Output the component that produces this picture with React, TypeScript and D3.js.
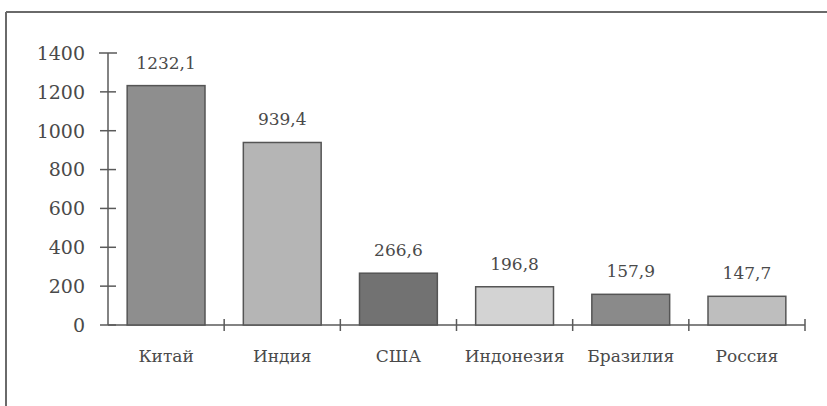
import React from "react";
import * as d3 from "d3";

const categories = ["Китай", "Индия", "США", "Индонезия", "Бразилия", "Россия"];
const values = [1232.1, 939.4, 266.6, 196.8, 157.9, 147.7];
const valueLabels = ["1232,1", "939,4", "266,6", "196,8", "157,9", "147,7"];
const yTicks = [0, 200, 400, 600, 800, 1000, 1200, 1400];
const barColors = ["#8e8e8e", "#b5b5b5", "#727272", "#d3d3d3", "#8a8a8a", "#bebebe"];

const W = 827;
const H = 406;
const X0 = 108;
const X1 = 805;
const Y0 = 325;
const Y1 = 53;
const FONT = "'DejaVu Serif', serif";
const TEXT = "#4a4a4a";
const AXIS = "#5a5a5a";

export default function App() {
  const x = d3
    .scaleBand<string>()
    .domain(categories)
    .range([X0, X1])
    .paddingInner(0.33)
    .paddingOuter(0.165);
  const y = d3.scaleLinear().domain([0, 1400]).range([Y0, Y1]);
  const step = x.step();
  const boundaries = d3.range(1, categories.length + 1).map((i) => X0 + i * step);

  return (
    <svg
      width={W}
      height={H}
      style={{ position: "absolute", left: 0, top: 0, background: "#fff" }}
    >
      {/* frame */}
      <line x1={6} y1={12} x2={W} y2={12} stroke="#6a6a6a" strokeWidth={2} />
      <line x1={6} y1={12} x2={6} y2={H} stroke="#6a6a6a" strokeWidth={2} />

      {/* y axis */}
      <line x1={X0} y1={y(1400)} x2={X0} y2={Y0} stroke={AXIS} strokeWidth={1.5} />
      {yTicks.map((t) => (
        <g key={t}>
          <line
            x1={t === 1400 ? X0 - 9 : X0 - 8}
            x2={t === 1400 ? X0 + 9 : X0 + 8}
            y1={y(t)}
            y2={y(t)}
            stroke={AXIS}
            strokeWidth={1.5}
          />
          <text
            x={85}
            y={y(t)}
            dy="0.36em"
            textAnchor="end"
            fontFamily={FONT}
            fontSize={19}
            fill={TEXT}
          >
            {t}
          </text>
        </g>
      ))}

      {/* x axis */}
      <line x1={X0} y1={Y0} x2={X1} y2={Y0} stroke={AXIS} strokeWidth={1.5} />
      {boundaries.map((bx, i) => (
        <line key={i} x1={bx} x2={bx} y1={Y0 - 6} y2={Y0 + 6} stroke={AXIS} strokeWidth={1.5} />
      ))}

      {/* bars */}
      {categories.map((c, i) => {
        const bx = x(c) as number;
        const bw = x.bandwidth();
        const top = y(values[i]);
        return (
          <g key={c}>
            <rect
              x={bx}
              y={top}
              width={bw}
              height={Y0 - top}
              fill={barColors[i]}
              stroke="#555"
              strokeWidth={1.5}
            />
            <text
              x={bx + bw / 2}
              y={top - 17}
              textAnchor="middle"
              fontFamily={FONT}
              fontSize={17}
              fill={TEXT}
            >
              {valueLabels[i]}
            </text>
            <text
              x={bx + bw / 2}
              y={362}
              textAnchor="middle"
              fontFamily={FONT}
              fontSize={17}
              fill={TEXT}
            >
              {c}
            </text>
          </g>
        );
      })}
    </svg>
  );
}
